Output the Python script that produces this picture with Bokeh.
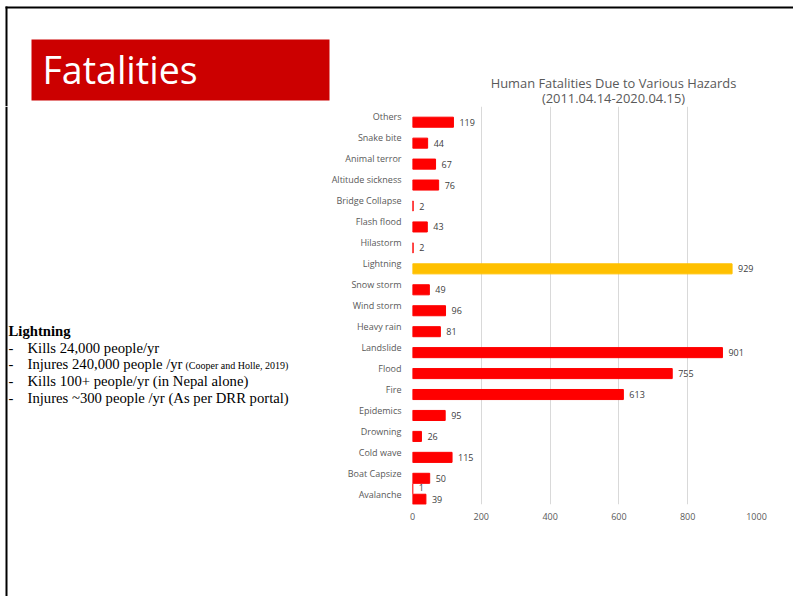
from bokeh.plotting import figure
from bokeh.layouts import column, row
from bokeh.models import FactorRange, Range1d, ColumnDataSource
from bokeh.transform import dodge
from bokeh.core.properties import value
from bokeh.embed import file_html
from bokeh.resources import INLINE

# ---------------- data ----------------
categories = ["Avalanche", "Boat Capsize", "Cold wave", "Drowning", "Epidemics", "Fire",
              "Flood", "Landslide", "Heavy rain", "Wind storm", "Snow storm", "Lightning",
              "Hilastorm", "Flash flood", "Bridge Collapse", "Altitude sickness",
              "Animal terror", "Snake bite", "Others"]
fatalities = [39, 50, 115, 26, 95, 613, 755, 901, 81, 96, 49, 929, 2, 43, 2, 76, 67, 44, 119]
second_series = [1, 0, 0, 0, 0, 0, 0, 0, 0, 0, 0, 0, 0, 0, 0, 0, 0, 0, 0]
x_ticks = [0, 200, 400, 600, 800, 1000]
highlight = "Lightning"

chart_title = ["Human Fatalities Due to Various Hazards", "(2011.04.14-2020.04.15)"]
slide_title = "Fatalities"
note_heading = "Lightning"
note_lines = ["Kills 24,000 people/yr", "Injures 240,000 people /yr",
              "Kills 100+ people/yr (in Nepal alone)", "Injures ~300 people /yr (As per DRR portal)"]
note_citation = "(Cooper and Holle, 2019)"

RED = "#FF0000"
GOLD = "#FFC000"
GREY = "#595959"
FONT = "Open Sans"
SERIF = "Liberation Serif"

W, H = 793, 596
HEADER_H = 106          # height of the slide header strip
LEFT_W = 318            # width of the left notes panel
FL, FR, FB = 412, 756, 504  # chart frame edges in page pixels


def blank(width, height, x0, x1, y0, y1):
    f = figure(width=width, height=height, x_range=Range1d(x0, x1), y_range=Range1d(y0, y1),
               x_axis_type=None, y_axis_type=None, output_backend="svg",
               toolbar_location=None, min_border=0)
    f.outline_line_color = None
    f.grid.visible = False
    f.background_fill_color = "white"
    f.border_fill_color = "white"
    return f


# ---------------- header: border, title box, chart title ----------------
hdr = blank(W, HEADER_H, 0, W, HEADER_H, 0)
hdr.segment(x0=[5], y0=[7], x1=[W], y1=[7], line_color="black", line_width=2)
hdr.segment(x0=[6], y0=[6], x1=[6], y1=[HEADER_H], line_color="black", line_width=2)
hdr.quad(left=[31], right=[329], top=[39], bottom=[100], fill_color="#CC0000",
         line_color=None)
hdr.text(x=[42], y=[68.5], text=[slide_title], text_align="left", text_baseline="middle",
         text_font=value(FONT), text_font_size="37.5px", text_color="white")
hdr.text(x=[613, 613], y=[82.5, 97.5], text=chart_title, text_align="center",
         text_baseline="middle", text_font=value(FONT), text_font_size="12.9px",
         text_color=GREY)

# ---------------- left panel: notes ----------------
lft = blank(LEFT_W, H - HEADER_H, 0, LEFT_W, H, HEADER_H)
lft.segment(x0=[6], y0=[HEADER_H], x1=[6], y1=[H], line_color="black", line_width=2)
lft.text(x=[8], y=[335.5 - 5], text=[note_heading], text_align="left", text_baseline="middle",
         text_font=value(SERIF), text_font_style="bold", text_font_size="14.7px",
         text_color="black")
bases = [352 + 16.7 * i for i in range(len(note_lines))]
mids = [b - 5 for b in bases]
lft.text(x=[8] * len(note_lines), y=mids, text=["-"] * len(note_lines), text_align="left",
         text_baseline="middle", text_font=value(SERIF), text_font_size="14.7px",
         text_color="black")
lft.text(x=[27] * len(note_lines), y=mids, text=note_lines, text_align="left",
         text_baseline="middle", text_font=value(SERIF), text_font_size="14.7px",
         text_color="black")
lft.text(x=[185], y=[bases[1] - 3.4], text=[note_citation], text_align="left",
         text_baseline="middle", text_font=value(SERIF), text_font_size="10px",
         text_color="black")

# ---------------- chart ----------------
p = figure(width=W - LEFT_W, height=H - HEADER_H,
           y_range=FactorRange(*categories, range_padding=0),
           x_range=Range1d(0, 1000), output_backend="svg", toolbar_location=None,
           min_border_left=FL - LEFT_W, min_border_right=W - FR, min_border_top=0,
           min_border_bottom=H - FB)
p.outline_line_color = None
p.background_fill_color = "white"
p.border_fill_color = "white"

colors = [GOLD if c == highlight else RED for c in categories]
src = ColumnDataSource(dict(cat=categories, val=fatalities, color=colors,
                            lab=[str(v) for v in fatalities]))
p.hbar(y=dodge("cat", -0.25, range=p.y_range), right="val", left=0, height=0.48,
       color="color", source=src)
p.text(x="val", y=dodge("cat", -0.25, range=p.y_range), text="lab", source=src,
       x_offset=6, text_baseline="middle", text_align="left",
       text_font=value(FONT), text_font_size="9px", text_color="#404040")

s2_cats = [c for c, v in zip(categories, second_series) if v > 0]
s2_vals = [v for v in second_series if v > 0]
src2 = ColumnDataSource(dict(cat=s2_cats, val=s2_vals, lab=[str(v) for v in s2_vals]))
p.hbar(y=dodge("cat", 0.25, range=p.y_range), right="val", left=0, height=0.48,
       color=RED, source=src2)
p.text(x="val", y=dodge("cat", 0.32, range=p.y_range), text="lab", source=src2,
       x_offset=6, text_baseline="middle", text_align="left",
       text_font=value(FONT), text_font_size="9px", text_color="#404040")

p.xaxis.ticker = x_ticks
p.xaxis.axis_line_color = None
p.xaxis.major_tick_line_color = None
p.xaxis.minor_tick_line_color = None
p.xaxis.major_tick_out = 0
p.xaxis.major_tick_in = 0
p.xaxis.major_label_text_font = FONT
p.xaxis.major_label_text_font_size = "9px"
p.xaxis.major_label_text_color = GREY
p.xaxis.major_label_standoff = 8
p.yaxis.axis_line_color = None
p.yaxis.major_tick_line_color = None
p.yaxis.minor_tick_line_color = None
p.yaxis.major_tick_out = 0
p.yaxis.major_tick_in = 0
p.yaxis.major_label_text_font = FONT
p.yaxis.major_label_text_font_size = "9px"
p.yaxis.major_label_text_color = GREY
p.yaxis.major_label_standoff = 11
p.xgrid.grid_line_color = "#D9D9D9"
p.ygrid.grid_line_color = None

layout = column(hdr, row(column(lft), column(p), spacing=0), spacing=0)
open("out.html", "w").write(file_html(layout, INLINE))
